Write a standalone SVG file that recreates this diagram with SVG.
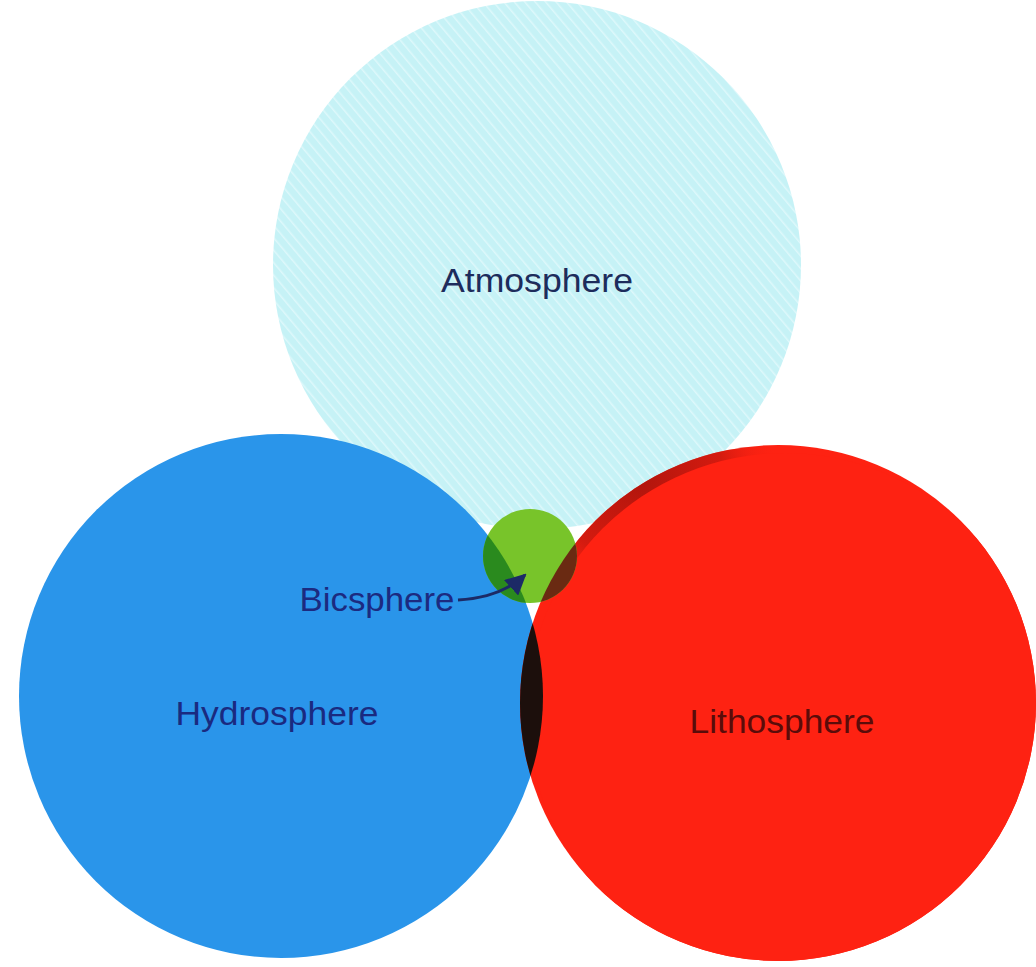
<svg xmlns="http://www.w3.org/2000/svg" width="1036" height="967" viewBox="0 0 1036 967">
<defs>
<pattern id="hatch" width="8" height="8" patternUnits="userSpaceOnUse" patternTransform="rotate(-40)">
<rect width="8" height="8" fill="#c6f2f6"/>
<line x1="0" y1="0" x2="0" y2="8" stroke="#def8fb" stroke-width="3"/>
</pattern>
<radialGradient id="shade" gradientUnits="userSpaceOnUse" cx="640" cy="480" r="140">
<stop offset="0" stop-color="#a8140c" stop-opacity="0.9"/>
<stop offset="0.6" stop-color="#b8160e" stop-opacity="0.6"/>
<stop offset="1" stop-color="#fe2212" stop-opacity="0"/>
</radialGradient>
<clipPath id="clipBlue"><circle cx="281" cy="696" r="262"/></clipPath>
<clipPath id="clipRed"><circle cx="778" cy="703" r="258"/></clipPath>
<clipPath id="clipGreen"><circle cx="530" cy="556" r="47"/></clipPath>
<marker id="arr" viewBox="0 0 10 10" refX="9" refY="5" markerWidth="7" markerHeight="7" orient="auto">
<path d="M0,0 L10,5 L0,10 z" fill="#1c2a66"/>
</marker>
</defs>
<style>
.lbl{font-family:"Liberation Sans","Open Sans",sans-serif;font-size:33px;}
</style>
<rect width="1036" height="967" fill="#ffffff"/>
<g id="atmosphere">
<circle cx="537" cy="265" r="264" fill="url(#hatch)"/>
<text class="lbl" x="537" y="292" text-anchor="middle" fill="#1d2c5c" textLength="192" lengthAdjust="spacingAndGlyphs">Atmosphere</text>
</g>
<g id="hydrosphere">
<circle cx="281" cy="696" r="262" fill="#2a95ea"/>
<text class="lbl" x="277" y="725" text-anchor="middle" fill="#1a2a80" textLength="203" lengthAdjust="spacingAndGlyphs">Hydrosphere</text>
</g>
<g id="lithosphere">
<circle cx="778" cy="703" r="258" fill="#fe2212"/>
<g clip-path="url(#clipRed)">
<rect x="500" y="440" width="300" height="200" fill="url(#shade)"/>
<circle cx="785" cy="711" r="258" fill="#fe2212"/>
</g>
<g clip-path="url(#clipBlue)"><circle cx="778" cy="703" r="258" fill="#1c0f0c"/></g>
<text class="lbl" x="782" y="733" text-anchor="middle" fill="#5a0c0a" textLength="185" lengthAdjust="spacingAndGlyphs">Lithosphere</text>
</g>
<g id="biosphere">
<circle cx="530" cy="556" r="47" fill="#78c42a"/>
<g clip-path="url(#clipGreen)">
<circle cx="281" cy="696" r="262" fill="#2a8a1e"/>
<circle cx="778" cy="703" r="258" fill="#6a2a12"/>
</g>
<text class="lbl" x="377" y="611" text-anchor="middle" fill="#1c2a80" textLength="155" lengthAdjust="spacingAndGlyphs">Bicsphere</text>
</g>
<g id="connectors">
<path d="M458,600 Q500,598 525,575" fill="none" stroke="#1c2a66" stroke-width="3" marker-end="url(#arr)"/>
</g>
</svg>
